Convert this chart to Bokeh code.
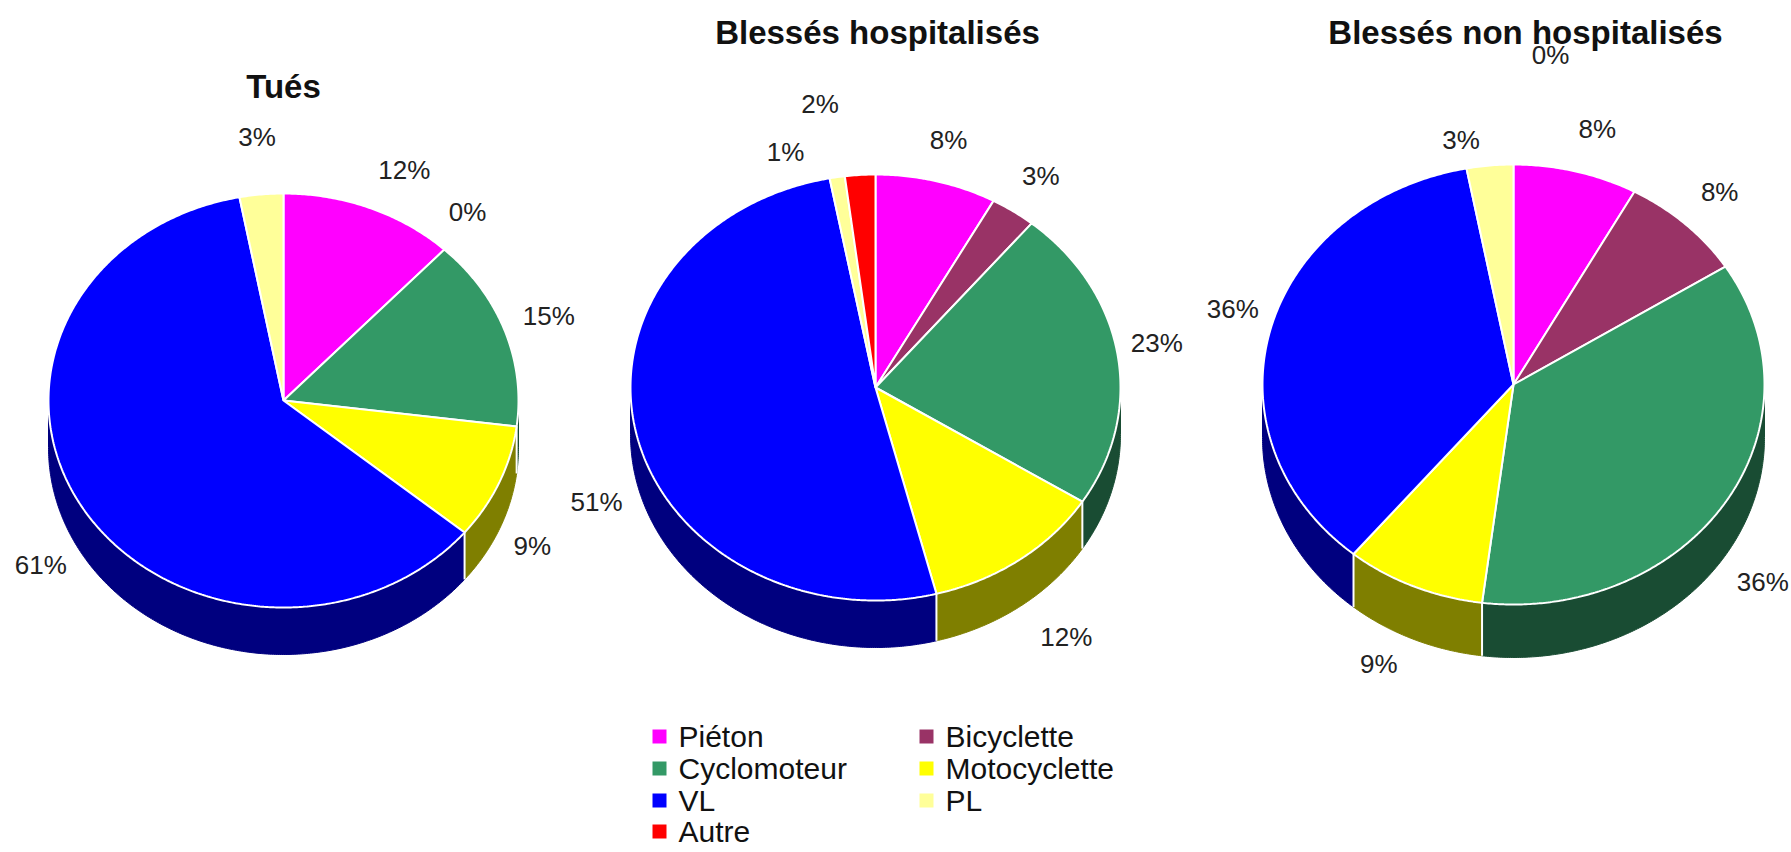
import numpy as np
from bokeh.plotting import figure
from bokeh.models import Range1d
from bokeh.embed import file_html
from bokeh.resources import INLINE
from bokeh.core.properties import value

# ---------------- data ----------------
categories = ["Piéton", "Bicyclette", "Cyclomoteur", "Motocyclette", "VL", "PL", "Autre"]
colors = ["#FF00FF", "#993366", "#339966", "#FFFF00", "#0000FF", "#FFFF99", "#FF0000"]
titles = ["Tués", "Blessés hospitalisés", "Blessés non hospitalisés"]
tues = [12, 0, 15, 9, 61, 3, 0]
blesses_hosp = [8, 3, 23, 12, 51, 1, 2]
blesses_non_hosp = [8, 8, 36, 9, 36, 3, 0]
series = [tues, blesses_hosp, blesses_non_hosp]
label_shown = [[True, True, True, True, True, True, False],
               [True] * 7,
               [True] * 7]

# ---------------- layout ----------------
W, H = 1791, 852
pies = [dict(cx=283, cy=400, rx=235, ry=207, depth=47, tx=283, ty=86),
        dict(cx=875, cy=387, rx=245, ry=213, depth=47, tx=877, ty=32),
        dict(cx=1513, cy=384, rx=251, ry=220, depth=53, tx=1525, ty=32)]
label_nudge = {(0, 0): (17, 0), (0, 1): (-9, -7), (0, 3): (-10, 0), (0, 4): (0, -9),
               (0, 5): (0, -16),
               (1, 2): (-9, -5), (1, 3): (18, -4), (1, 4): (8, 12), (1, 5): (-44, 17),
               (1, 6): (-37, -28),
               (2, 0): (9, 0), (2, 2): (-5, 3), (2, 3): (-15, -16), (2, 4): (11, -10),
               (2, 5): (-24, 18), (2, 6): (37, -66)}
FONT = "Liberation Sans"
leg_col_x = [659, 926]
leg_row_y = [736, 768, 800, 831]


def darker(hexcol, f=0.5):
    r, g, b = (int(hexcol[i:i + 2], 16) for i in (1, 3, 5))
    return "#%02x%02x%02x" % (int(r * f), int(g * f), int(b * f))


def ell(pie, t_deg, k=1.0):
    t = np.radians(t_deg)
    return pie["cx"] + k * pie["rx"] * np.sin(t), pie["cy"] - k * pie["ry"] * np.cos(t)


p = figure(width=W, height=H, output_backend="svg", toolbar_location=None,
           x_range=Range1d(0, W), y_range=Range1d(H, 0),
           min_border=0, outline_line_color=None, background_fill_color="white")
p.axis.visible = False
p.grid.visible = False

for ci, (vals, pie) in enumerate(zip(series, pies)):
    total = float(sum(vals))
    bounds = np.concatenate([[0.0], np.cumsum(vals) / total * 360.0])
    d = pie["depth"]

    # sides (front half only: 90..270 degrees clockwise from top)
    sxs, sys_, scol = [], [], []
    for i, v in enumerate(vals):
        t0, t1 = max(bounds[i], 90.0), min(bounds[i + 1], 270.0)
        if v <= 0 or t1 <= t0:
            continue
        t = np.linspace(t0, t1, max(3, int((t1 - t0) * 2)))
        x, y = ell(pie, t)
        sxs.append(list(x) + list(x[::-1]))
        sys_.append(list(y) + list((y + d)[::-1]))
        scol.append(darker(colors[i]))
    p.patches(sxs, sys_, fill_color=scol, line_color=scol, line_width=1)

    # white separators on the side
    bx, by0, by1 = [], [], []
    for b in bounds[1:-1]:
        if 90.0 < b < 270.0:
            x, y = ell(pie, b)
            bx.append(x); by0.append(y); by1.append(y + d)
    if bx:
        p.segment(bx, by0, bx, by1, line_color="white", line_width=2)

    # top faces
    txs, tys, tcol = [], [], []
    for i, v in enumerate(vals):
        if v <= 0:
            continue
        t = np.linspace(bounds[i], bounds[i + 1], max(3, int((bounds[i + 1] - bounds[i]) * 2)))
        x, y = ell(pie, t)
        txs.append([pie["cx"]] + list(x) + [pie["cx"]])
        tys.append([pie["cy"]] + list(y) + [pie["cy"]])
        tcol.append(colors[i])
    p.patches(txs, tys, fill_color=tcol, line_color="white", line_width=2)

    # percentage labels
    lx, ly, lt = [], [], []
    for i, v in enumerate(vals):
        if not label_shown[ci][i]:
            continue
        m = (bounds[i] + bounds[i + 1]) / 2.0
        x, y = ell(pie, m, 1.2)
        if np.cos(np.radians(m)) < 0:
            y += d
        dx, dy = label_nudge.get((ci, i), (0, 0))
        lx.append(x + dx); ly.append(y + dy); lt.append("%d%%" % v)
    p.text(lx, ly, text=lt, text_align="center", text_baseline="middle",
           text_font=value(FONT), text_font_size="26px", text_color="#222222")

    # title
    p.text([pie["tx"]], [pie["ty"]], text=[titles[ci]], text_align="center",
           text_baseline="middle", text_font=value(FONT),
           text_font_size="33px", text_font_style="bold", text_color="#111111")

# legend
gx = [leg_col_x[i % 2] for i in range(len(categories))]
gy = [leg_row_y[i // 2] for i in range(len(categories))]
p.scatter(gx, gy, marker="square", size=14, fill_color=colors, line_color=None)
p.text([x + 19 for x in gx], gy, text=categories, text_align="left", text_baseline="middle",
       text_font=value(FONT), text_font_size="30px", text_color="#111111")

open("out.html", "w").write(file_html(p, INLINE))
